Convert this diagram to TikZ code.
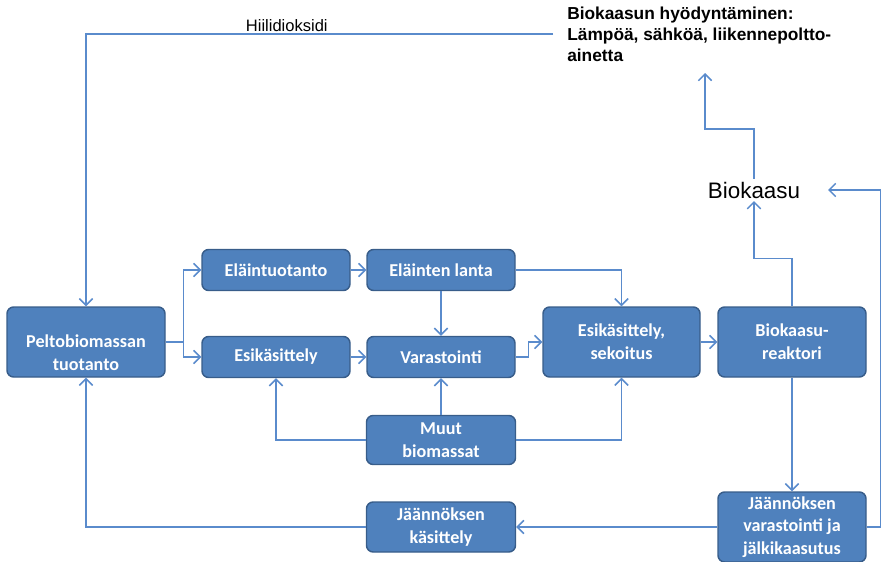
\documentclass[tikz,border=0pt]{standalone}
\usepackage{fontspec}
\setmainfont{Liberation Sans}
\newfontfamily\calibri{Carlito}
\usetikzlibrary{arrows.meta}

\definecolor{laatikkosin}{RGB}{79,129,189}
\definecolor{reunasin}{RGB}{56,93,138}
\definecolor{viivasin}{RGB}{90,139,204}

\tikzset{
  laatikko/.style={draw=reunasin, fill=laatikkosin, line width=1.1pt, rounded corners=5pt,
    text=white, font=\calibri\bfseries\fontsize{13.6}{17}\selectfont, align=center, inner sep=0pt},
  pieni/.style={laatikko, minimum width=111pt, minimum height=30.75pt},
  iso/.style={laatikko, minimum width=111pt, minimum height=52.5pt},
  nuoli/.style={draw=viivasin, line width=1.1pt, -{Straight Barb[length=5pt,width=10pt]}},
  viiva/.style={draw=viivasin, line width=1.1pt},
}

\begin{document}
\begin{tikzpicture}[x=0.75pt,y=0.75pt,yscale=-1,xscale=1]
\useasboundingbox (0,0) rectangle (882,561);

% Shapes: Rounded Rectangles
\node [iso, minimum width=118.5pt, label={[text=white, font=\calibri\bfseries\fontsize{13.6}{17}\selectfont, align=center, yshift=-8pt]center:Peltobiomassan\\tuotanto}] (pelto) at (86,342) {};
\node [pieni] (elain) at (276,270) {Eläintuotanto};
\node [pieni] (lanta) at (441,270) {Eläinten lanta};
\node [pieni] (esik) at (276,357) {Esikäsittely};
\node [pieni] (varast) at (441,357) {Varastointi};
\node [iso, minimum width=117.75pt] (sekoitus) at (621.5,342) {Esikäsittely,\\sekoitus};
\node [iso] (reaktori) at (792,342) {Biokaasu-\\reaktori};
\node [pieni, minimum width=111.75pt, minimum height=36.75pt] (muut) at (441,440) {Muut\\biomassat};
\node [pieni, minimum width=111.75pt, minimum height=37.5pt] (jkas) at (441,527) {Jäännöksen\\käsittely};
\node [iso] (jvar) at (792,527) {Jäännöksen\\varastointi ja\\jälkikaasutus};

% Text Nodes
\node [font=\fontsize{16.8}{20}\selectfont, inner sep=2pt] (biokaasu) at (754,190) {Biokaasu};
\node [anchor=north west, align=left, inner sep=0pt, font=\bfseries\fontsize{13}{15.75}\selectfont] (hyoty) at (567,7)
  {Biokaasun hyödyntäminen:\\Lämpöä, sähköä, liikennepoltto-\\ainetta};
\coordinate (co2) at (553,34);
\coordinate (hyotyalla) at (705,73);
\coordinate (bkoikea) at (828,190);

% Straight Lines
\draw [nuoli] (co2) -| node [pos=0.285, above, text=black, font=\fontsize{12.4}{14}\selectfont, inner sep=1.5pt] (hiili) {Hiilidioksidi} (pelto.north);
\draw [nuoli] (biokaasu.north) -- ++(0,-50) -| (hyotyalla);
\draw [nuoli] (reaktori.north) -- ++(0,-48) -| (biokaasu.south);
\draw [nuoli] (jvar.east) -- ++(14,0) |- (bkoikea);
\draw [nuoli] (reaktori.south) -- (jvar.north);
\draw [nuoli] (jvar.west) -- (jkas.east);
\draw [nuoli] (jkas.west) -| (pelto.south);
\draw [nuoli] (pelto.east) -- ++(18,0) |- (elain.west);
\draw [nuoli] (pelto.east) -- ++(18,0) |- (esik.west);
\draw [nuoli] (elain.east) -- (lanta.west);
\draw [nuoli] (esik.east) -- (varast.west);
\draw [nuoli] (lanta.south) -- (varast.north);
\draw [nuoli] (lanta.east) -| (sekoitus.north);
\draw [nuoli] (varast.east) -- ++(13,0) |- (sekoitus.west);
\draw [nuoli] (sekoitus.east) -- (reaktori.west);
\draw [nuoli] (muut.north) -- (varast.south);
\draw [nuoli] (muut.west) -| (esik.south);
\draw [nuoli] (muut.east) -| (sekoitus.south);

\end{tikzpicture}
\end{document}
